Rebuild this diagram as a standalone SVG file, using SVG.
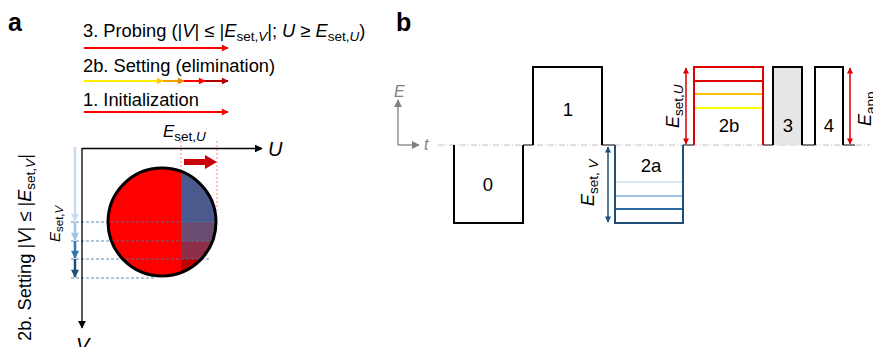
<svg xmlns="http://www.w3.org/2000/svg" width="873" height="347" viewBox="0 0 873 347">
  <style>
    text { font-family: "Liberation Sans", Arial, sans-serif; fill: #000; }
    .lbl { font-size: 25px; font-weight: bold; }
    .t { font-size: 18.3px; }
    .num { font-size: 18.5px; text-anchor: middle; }
    .it { font-style: italic; }
    .sub { font-size: 13.5px; }
    .pulse { fill: none; stroke: #000; stroke-width: 2; }
    .gap { stroke: #7f7f7f; stroke-width: 2; }
  </style>
  <defs>
    <marker id="hRed" viewBox="0 0 10 10" refX="9" refY="5" markerWidth="4" markerHeight="3.4" orient="auto" markerUnits="strokeWidth"><path d="M0,0 L10,5 L0,10 Z" fill="#ff0000"/></marker>
    <marker id="hYel" viewBox="0 0 10 10" refX="9" refY="5" markerWidth="4" markerHeight="3.4" orient="auto" markerUnits="strokeWidth"><path d="M0,0 L10,5 L0,10 Z" fill="#ffcc00"/></marker>
    <marker id="hOra" viewBox="0 0 10 10" refX="9" refY="5" markerWidth="4" markerHeight="3.4" orient="auto" markerUnits="strokeWidth"><path d="M0,0 L10,5 L0,10 Z" fill="#f08c00"/></marker>
    <marker id="hDrk" viewBox="0 0 10 10" refX="9" refY="5" markerWidth="4" markerHeight="3.4" orient="auto" markerUnits="strokeWidth"><path d="M0,0 L10,5 L0,10 Z" fill="#b00000"/></marker>
    <marker id="hBlk" viewBox="0 0 10 10" refX="9" refY="5" markerWidth="7" markerHeight="6" orient="auto" markerUnits="strokeWidth"><path d="M0,0 L10,5 L0,10 Z" fill="#000"/></marker>
    <marker id="hGry" viewBox="0 0 10 10" refX="9" refY="5" markerWidth="7" markerHeight="6" orient="auto" markerUnits="strokeWidth"><path d="M0,0 L10,5 L0,10 Z" fill="#808080"/></marker>
    <marker id="hB0" viewBox="0 0 10 10" refX="9" refY="5" markerWidth="3.6" markerHeight="3.2" orient="auto" markerUnits="strokeWidth"><path d="M0,0 L10,5 L0,10 Z" fill="#c9dcf0"/></marker>
    <marker id="hB1" viewBox="0 0 10 10" refX="9" refY="5" markerWidth="3.6" markerHeight="3.2" orient="auto" markerUnits="strokeWidth"><path d="M0,0 L10,5 L0,10 Z" fill="#9dc3e6"/></marker>
    <marker id="hB2" viewBox="0 0 10 10" refX="9" refY="5" markerWidth="3.6" markerHeight="3.2" orient="auto" markerUnits="strokeWidth"><path d="M0,0 L10,5 L0,10 Z" fill="#2e75b6"/></marker>
    <marker id="hB3" viewBox="0 0 10 10" refX="9" refY="5" markerWidth="3.6" markerHeight="3.2" orient="auto" markerUnits="strokeWidth"><path d="M0,0 L10,5 L0,10 Z" fill="#1f4e79"/></marker>
    <marker id="dRed" viewBox="0 0 10 10" refX="9" refY="5" markerWidth="5" markerHeight="4" orient="auto-start-reverse" markerUnits="strokeWidth"><path d="M0,0 L10,5 L0,10 Z" fill="#e00000"/></marker>
    <marker id="dBlu" viewBox="0 0 10 10" refX="9" refY="5" markerWidth="5" markerHeight="4" orient="auto-start-reverse" markerUnits="strokeWidth"><path d="M0,0 L10,5 L0,10 Z" fill="#1f4e79"/></marker>
    <clipPath id="disc"><circle cx="162" cy="222" r="54"/></clipPath>
  </defs>

  <!-- panel a -->
  <g id="panel-a">
    <text class="lbl" x="8" y="31">a</text>

    <g id="legend">
      <text class="t" x="83" y="37">3. Probing (|<tspan class="it">V</tspan>| ≤ |<tspan class="it">E</tspan><tspan class="sub" dy="4">set,</tspan><tspan class="sub it">V</tspan><tspan dy="-4">|; </tspan><tspan class="it">U</tspan> ≥ <tspan class="it">E</tspan><tspan class="sub" dy="4">set,</tspan><tspan class="sub it">U</tspan><tspan dy="-4">)</tspan></text>
      <line x1="84" y1="48" x2="228" y2="48" stroke="#ff0000" stroke-width="2" marker-end="url(#hRed)"/>
      <text class="t" x="83" y="72">2b. Setting (elimination)</text>
      <line x1="84" y1="81" x2="163" y2="81" stroke="#ffee00" stroke-width="2" marker-end="url(#hYel)"/>
      <line x1="163" y1="81" x2="184" y2="81" stroke="#f5a000" stroke-width="2" marker-end="url(#hOra)"/>
      <line x1="184" y1="81" x2="205" y2="81" stroke="#ff0000" stroke-width="2" marker-end="url(#hRed)"/>
      <line x1="205" y1="81" x2="228" y2="81" stroke="#b00000" stroke-width="2" marker-end="url(#hDrk)"/>
      <text class="t" x="83" y="106">1. Initialization</text>
      <line x1="84" y1="112" x2="228" y2="112" stroke="#ff0000" stroke-width="2" marker-end="url(#hRed)"/>
    </g>

    <!-- threshold marks on U -->
    <g id="u-threshold">
      <text class="it" font-size="17" x="163" y="137">E<tspan class="sub" dy="4" font-style="normal">set,</tspan><tspan class="sub">U</tspan></text>
      <line x1="181" y1="141" x2="181" y2="172" stroke="#ff8080" stroke-width="1" stroke-dasharray="2,2"/>
      <line x1="217" y1="141" x2="217" y2="210" stroke="#ff8080" stroke-width="1" stroke-dasharray="2,2"/>
      <path d="M184,159 H205 V155 L217,162 L205,169 V165 H184 Z" fill="#c8000a"/>
    </g>

    <!-- state disc -->
    <g id="disc-node">
      <circle cx="162" cy="222" r="54" fill="#ff0000"/>
      <g clip-path="url(#disc)">
        <rect x="181" y="160" width="40" height="62" fill="#4b5a8c"/>
        <rect x="181" y="222" width="40" height="19" fill="#6a4c70"/>
        <rect x="181" y="241" width="40" height="18" fill="#8d2f48"/>
        <rect x="181" y="259" width="40" height="22" fill="#c00000"/>
      </g>
      <g stroke="#4a78a8" stroke-width="1" stroke-dasharray="3,2" opacity="0.85">
        <line x1="71" y1="222" x2="214" y2="222"/>
        <line x1="71" y1="241" x2="214" y2="241"/>
        <line x1="71" y1="259" x2="211" y2="259"/>
        <line x1="71" y1="278" x2="155" y2="278"/>
      </g>
      <circle cx="162" cy="222" r="54" fill="none" stroke="#000" stroke-width="3"/>
    </g>

    <!-- axes -->
    <g id="axes-a">
      <line x1="82" y1="148.5" x2="262" y2="148.5" stroke="#000" stroke-width="1.3" marker-end="url(#hBlk)"/>
      <line x1="82" y1="148" x2="82" y2="328" stroke="#000" stroke-width="1.3" marker-end="url(#hBlk)"/>
      <text class="it" x="268" y="156" font-size="20">U</text>
      <text class="it" x="76" y="352" font-size="20">V</text>
    </g>

    <!-- stepped V setting -->
    <g id="v-steps">
      <line x1="75" y1="147" x2="75" y2="221" stroke="#c9dcf0" stroke-width="2.5" marker-end="url(#hB0)"/>
      <line x1="75" y1="222" x2="75" y2="240" stroke="#9dc3e6" stroke-width="2.5" marker-end="url(#hB1)"/>
      <line x1="75" y1="241" x2="75" y2="258" stroke="#2e75b6" stroke-width="2.5" marker-end="url(#hB2)"/>
      <line x1="75" y1="259" x2="75" y2="277" stroke="#1f4e79" stroke-width="2.5" marker-end="url(#hB3)"/>
      <text class="it" font-size="15" transform="translate(60,242) rotate(-90)">E<tspan font-size="11.5" font-style="normal" dy="3">set,</tspan><tspan font-size="11.5">V</tspan></text>
      <text class="t" transform="translate(31,341) rotate(-90)">2b. Setting |<tspan class="it">V</tspan>| ≤ |<tspan class="it">E</tspan><tspan class="sub" dy="4">set,</tspan><tspan class="sub it">V</tspan><tspan dy="-4">|</tspan></text>
    </g>
  </g>

  <!-- panel b -->
  <g id="panel-b">
    <text class="lbl" x="396" y="31">b</text>

    <g id="axes-b">
      <line x1="398" y1="145" x2="398" y2="100" stroke="#808080" stroke-width="1.3" marker-end="url(#hGry)"/>
      <line x1="398" y1="145" x2="419" y2="145" stroke="#808080" stroke-width="1.3" marker-end="url(#hGry)"/>
      <text class="it" x="394" y="97" font-size="16" style="fill:#808080">E</text>
      <text class="it" x="424" y="150" font-size="16" style="fill:#808080">t</text>
      <line x1="438" y1="145" x2="870" y2="145" stroke="#c0c0c0" stroke-width="1" stroke-dasharray="6,2,1,2"/>
    </g>

    <g id="connectors">
      <line class="gap" x1="523" y1="145" x2="533" y2="145"/>
      <line class="gap" x1="602" y1="145" x2="615" y2="145"/>
      <line class="gap" x1="683" y1="145" x2="694" y2="145"/>
      <line class="gap" x1="763" y1="145" x2="773" y2="145"/>
      <line class="gap" x1="802" y1="145" x2="815" y2="145"/>
      <line class="gap" x1="843" y1="145" x2="855" y2="145"/>
    </g>

    <g id="pulse-0">
      <path class="pulse" d="M454,145 V223 H523 V145"/>
      <text class="num" x="488" y="191">0</text>
    </g>
    <g id="pulse-1">
      <path class="pulse" d="M533,145 V67 H602 V145"/>
      <text class="num" x="568" y="116">1</text>
    </g>
    <g id="pulse-2a">
      <path d="M615,145 V223 H683 V145" fill="none" stroke="#1f4e79" stroke-width="2"/>
      <line x1="616" y1="182" x2="682" y2="182" stroke="#dae8f5" stroke-width="1.8"/>
      <line x1="616" y1="196" x2="682" y2="196" stroke="#9dc3e6" stroke-width="1.8"/>
      <line x1="616" y1="209" x2="682" y2="209" stroke="#2e6aa6" stroke-width="1.8"/>
      <text class="num" x="651" y="172">2a</text>
      <line x1="608" y1="147" x2="608" y2="222" stroke="#1f4e79" stroke-width="1.5" marker-start="url(#dBlu)" marker-end="url(#dBlu)"/>
      <text class="it" font-size="18" transform="translate(594,206) rotate(-90)">E<tspan class="sub" font-style="normal" dy="4">set, </tspan><tspan class="sub">V</tspan></text>
    </g>
    <g id="pulse-2b">
      <path d="M694,145 V67 H763 V145" fill="none" stroke="#e00000" stroke-width="2"/>
      <line x1="695" y1="81" x2="762" y2="81" stroke="#e00000" stroke-width="1.8"/>
      <line x1="695" y1="94" x2="762" y2="94" stroke="#ffc000" stroke-width="1.8"/>
      <line x1="695" y1="108" x2="762" y2="108" stroke="#ffff00" stroke-width="1.8"/>
      <text class="num" x="729" y="132">2b</text>
      <line x1="686" y1="68" x2="686" y2="144" stroke="#e00000" stroke-width="1.5" marker-start="url(#dRed)" marker-end="url(#dRed)"/>
      <text class="it" font-size="18" transform="translate(679,128) rotate(-90)">E<tspan class="sub" font-style="normal" dy="4">set,</tspan><tspan class="sub">U</tspan></text>
    </g>
    <g id="pulse-3">
      <path d="M773,145 V67 H802 V145" fill="#e6e6e6" stroke="#000" stroke-width="2"/>
      <text class="num" x="788" y="132">3</text>
    </g>
    <g id="pulse-4">
      <path class="pulse" d="M815,145 V67 H843 V145"/>
      <text class="num" x="829" y="132">4</text>
      <line x1="850" y1="68" x2="850" y2="144" stroke="#e00000" stroke-width="1.5" marker-start="url(#dRed)" marker-end="url(#dRed)"/>
      <text class="it" font-size="18" transform="translate(871,126) rotate(-90)">E<tspan class="sub" font-style="normal" dy="4">app</tspan></text>
    </g>
  </g>
</svg>
